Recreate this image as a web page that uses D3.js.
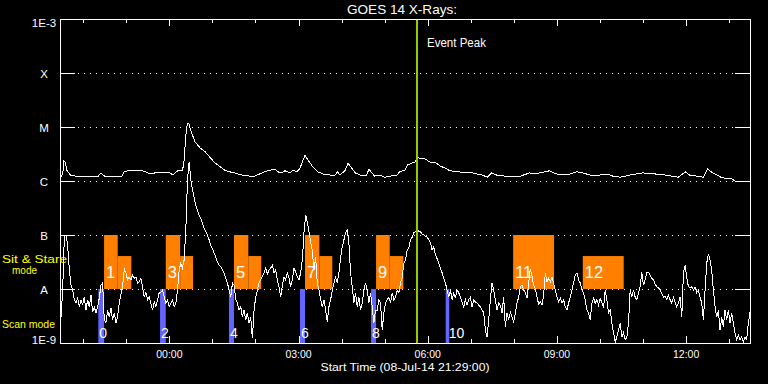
<!DOCTYPE html>
<html>
<head>
<meta charset="utf-8">
<script src="https://cdn.jsdelivr.net/npm/d3@7"></script>
<style>
  body { margin: 0; background: #000; }
  svg { display: block; }
</style>
</head>
<body>
<div id="chart"></div>
<script>
// --- DATA ---
const startTime = new Date(2014, 6, 8, 21, 29, 0);
const endTime = new Date(2014, 6, 9, 13, 29, 0);
const eventPeakMin = 496;   // minutes after start

// long channel: [minutes after start, log10 flux]
const longChannel = [
  [0,-5.93],[1,-5.91],[3,-5.80],[4,-5.63],[6,-5.65],[8,-5.80],[13,-5.89],[20,-5.91],[26,-5.91],[40,-5.91],
  [52,-5.91],[54,-5.87],[56,-5.85],[59,-5.89],[61,-5.91],[75,-5.91],[85,-5.91],[88,-5.83],[93,-5.81],[100,-5.81],
  [107,-5.80],[114,-5.81],[124,-5.87],[131,-5.85],[138,-5.85],[145,-5.85],[152,-5.85],[156,-5.89],[159,-5.85],[164,-5.80],
  [169,-5.80],[171,-5.70],[174,-5.15],[176,-4.93],[178,-4.93],[180,-5.04],[187,-5.28],[194,-5.39],[201,-5.46],[208,-5.57],
  [215,-5.67],[222,-5.74],[228,-5.80],[235,-5.83],[242,-5.85],[252,-5.89],[263,-5.91],[270,-5.91],[280,-5.85],[288,-5.81],
  [298,-5.78],[302,-5.83],[308,-5.85],[312,-5.81],[319,-5.85],[323,-5.80],[329,-5.83],[333,-5.76],[340,-5.52],[344,-5.61],
  [351,-5.74],[358,-5.83],[365,-5.87],[375,-5.89],[382,-5.89],[385,-5.83],[389,-5.89],[396,-5.80],[400,-5.67],[405,-5.76],
  [410,-5.85],[417,-5.89],[426,-5.89],[429,-5.78],[433,-5.85],[437,-5.91],[444,-5.89],[451,-5.93],[458,-5.91],[468,-5.89],
  [472,-5.83],[479,-5.80],[483,-5.70],[489,-5.67],[493,-5.65],[497,-5.57],[507,-5.59],[514,-5.65],[521,-5.65],[528,-5.72],
  [535,-5.76],[542,-5.81],[553,-5.83],[573,-5.85],[587,-5.89],[594,-5.93],[600,-5.85],[607,-5.89],[619,-5.91],[640,-5.91],
  [653,-5.85],[660,-5.87],[674,-5.83],[681,-5.81],[686,-5.85],[695,-5.89],[709,-5.87],[719,-5.83],[727,-5.85],[737,-5.89],
  [751,-5.89],[761,-5.87],[769,-5.91],[779,-5.93],[793,-5.89],[810,-5.85],[828,-5.87],[842,-5.89],[860,-5.93],[870,-5.83],
  [876,-5.89],[895,-5.93],[901,-5.78],[908,-5.85],[921,-5.94],[935,-5.96],[939,-6.00],[960,-6.00]
];

// short channel: evenly sampled, log10 flux
const shortStepMin = 960 / 414;
const shortChannel = [
  -8.52,-8.02,-7.04,-7.00,-7.19,-7.65,-7.93,-8.02,-8.20,-8.26,-8.17,-8.33,-8.20,-8.30,-8.15,
  -8.39,-8.20,-8.33,-8.11,-8.43,-8.33,-8.44,-8.33,-8.17,-7.93,-7.89,-8.57,-8.63,-8.39,-8.52,
  -8.35,-8.57,-8.44,-8.63,-8.52,-8.26,-8.11,-7.96,-7.63,-7.70,-7.83,-7.78,-7.83,-7.74,-7.80,
  -7.78,-7.89,-7.87,-7.80,-7.96,-8.15,-8.06,-8.20,-8.15,-8.26,-8.39,-8.24,-8.33,-8.20,-8.07,
  -8.06,-8.02,-8.15,-8.26,-8.20,-8.33,-8.26,-8.20,-8.33,-8.26,-8.02,-7.65,-7.52,-7.61,-7.46,
  -6.91,-5.98,-5.65,-5.98,-6.17,-6.30,-6.46,-6.54,-6.63,-6.69,-6.78,-6.87,-6.94,-7.00,-7.09,
  -7.19,-7.26,-7.33,-7.41,-7.50,-7.56,-7.59,-7.65,-7.70,-7.80,-7.89,-8.02,-8.15,-7.89,-7.93,
  -8.20,-8.26,-8.39,-8.33,-8.52,-8.39,-8.57,-8.44,-8.63,-8.52,-8.91,-8.39,-8.15,-8.02,-7.89,
  -7.83,-7.76,-7.70,-7.61,-7.72,-7.65,-7.61,-7.56,-7.70,-7.65,-7.83,-7.96,-8.15,-7.93,-7.78,
  -7.83,-7.70,-7.80,-7.96,-7.83,-7.61,-7.69,-7.78,-7.83,-7.70,-7.46,-6.96,-6.63,-6.76,-6.94,
  -7.13,-7.28,-7.65,-7.41,-7.89,-8.02,-8.20,-8.33,-8.20,-8.39,-8.61,-8.33,-8.20,-8.02,-7.89,
  -7.78,-7.89,-7.70,-7.41,-7.22,-7.09,-6.96,-6.91,-7.15,-7.70,-7.96,-8.26,-8.07,-8.33,-8.15,
  -8.39,-8.26,-8.02,-7.89,-8.02,-8.26,-8.07,-8.33,-8.63,-8.39,-8.39,-8.20,-8.26,-8.76,-8.44,
  -8.26,-8.20,-8.15,-8.26,-8.07,-8.20,-8.15,-8.02,-8.07,-7.89,-7.78,-7.52,-7.46,-7.28,-7.24,
  -7.09,-7.04,-6.96,-6.94,-6.91,-6.93,-6.94,-6.98,-7.00,-7.02,-7.04,-7.09,-7.15,-7.28,-7.22,
  -7.37,-7.44,-7.52,-7.61,-7.70,-7.80,-7.89,-8.02,-8.15,-8.02,-8.20,-8.07,-8.17,-8.02,-8.07,
  -8.15,-8.24,-8.33,-8.20,-8.30,-8.20,-8.15,-8.33,-8.20,-8.24,-8.26,-8.30,-8.33,-8.39,-8.44,
  -8.76,-8.89,-8.57,-8.20,-7.89,-8.02,-8.20,-8.39,-8.26,-8.30,-8.44,-8.15,-8.70,-8.44,-8.57,
  -8.43,-8.52,-8.61,-8.44,-8.26,-8.15,-7.96,-7.93,-8.02,-8.07,-8.17,-7.89,-7.63,-7.76,-7.93,
  -8.00,-8.15,-8.28,-8.24,-8.30,-8.11,-7.70,-7.87,-7.80,-7.87,-7.78,-7.89,-8.02,-8.15,-8.24,
  -8.17,-8.26,-8.20,-8.33,-8.39,-8.26,-8.15,-8.02,-7.89,-7.74,-7.70,-7.83,-7.89,-8.02,-8.07,
  -8.20,-8.39,-8.44,-8.57,-8.26,-8.17,-8.26,-8.20,-8.30,-8.17,-8.26,-8.35,-8.02,-8.20,-8.44,
  -8.39,-8.63,-8.81,-8.98,-8.89,-8.76,-8.63,-8.89,-8.81,-8.94,-8.89,-8.63,-8.02,-8.15,-8.02,
  -8.15,-8.20,-8.07,-7.96,-7.69,-7.93,-7.83,-7.70,-7.69,-7.74,-7.80,-7.83,-7.91,-7.96,-7.98,
  -8.02,-8.09,-8.15,-8.13,-8.20,-8.11,-8.20,-8.26,-8.15,-8.24,-8.33,-8.26,-8.15,-8.52,-7.70,
  -7.56,-7.78,-7.96,-7.98,-7.96,-8.02,-7.96,-8.07,-8.02,-8.15,-8.26,-8.57,-8.02,-7.52,-7.35,
  -7.46,-7.65,-8.02,-8.33,-8.52,-8.39,-8.76,-8.52,-8.70,-8.39,-8.57,-8.39,-8.63,-8.44,-8.63,
  -8.81,-8.94,-8.85,-8.94,-8.89,-8.98,-8.89,-8.94,-8.63,-8.43
];

// y axis levels (log10 flux) and labels
const levelExp = [-3, -4, -5, -6, -7, -8, -9];
const levelLabels = ["1E-3", "X", "M", "C", "B", "A", "1E-9"];

// sit & stare blocks (minutes after start)
const stareLabels = ["1", "3", "5", "7", "9", "11", "12"];
const stareStart = [60, 146, 241, 340, 439, 630, 727];
const stareSplit = [79, 166, 261, 360, 458, 687, 727];
const stareEnd   = [98, 184, 279, 378, 477, 687, 784];
const stareHigh = -7;      // tall part top
const stareLow = -7.39;    // short part top
const stareBase = -8;

// scan mode bars (minutes after start)
const scanLabels = ["0", "2", "4", "6", "8", "10"];
const scanStart = [52, 138, 234, 333, 432, 536];
const scanEnd   = [60, 146, 241, 340, 439, 541];

// --- SCALES ---
const W = 768, H = 384;
const plot = { left: 60, right: 750, top: 19, bottom: 343 };
const atMin = m => new Date(startTime.getTime() + m * 60000);
const x = d3.scaleTime().domain([startTime, endTime]).range([61, 750]);
const y = d3.scaleLog().domain([1e-9, 1e-3]).range([plot.bottom, plot.top]).clamp(true);
const yE = e => y(Math.pow(10, e));

const font = "'Liberation Sans', Arial, sans-serif";
const svg = d3.select("#chart").append("svg")
  .attr("width", W).attr("height", H)
  .style("background", "#000");

// --- GRID (dotted) + side ticks ---
const inner = levelExp.slice(1, -1);
svg.selectAll("line.grid").data(inner).enter().append("line")
  .attr("class", "grid")
  .attr("x1", plot.left + 18).attr("x2", plot.right - 15)
  .attr("y1", d => yE(d) + 0.5).attr("y2", d => yE(d) + 0.5)
  .attr("stroke", "#fff").attr("stroke-width", 1)
  .attr("stroke-dasharray", "1,5");
svg.selectAll("line.tl").data(inner).enter().append("line")
  .attr("x1", plot.left).attr("x2", plot.left + 15)
  .attr("y1", d => yE(d) + 0.5).attr("y2", d => yE(d) + 0.5)
  .attr("stroke", "#fff");
svg.selectAll("line.tr").data(inner).enter().append("line")
  .attr("x1", plot.right - 15).attr("x2", plot.right)
  .attr("y1", d => yE(d) + 0.5).attr("y2", d => yE(d) + 0.5)
  .attr("stroke", "#fff");

// --- SIT & STARE blocks ---
const orange = "#ff8000";
stareLabels.forEach((lab, i) => {
  if (stareSplit[i] > stareStart[i]) {
    svg.append("rect")
      .attr("x", x(atMin(stareStart[i])))
      .attr("width", x(atMin(stareSplit[i])) - x(atMin(stareStart[i])))
      .attr("y", yE(stareHigh))
      .attr("height", yE(stareBase) - yE(stareHigh))
      .attr("fill", orange);
  }
  if (stareEnd[i] > stareSplit[i]) {
    svg.append("rect")
      .attr("x", x(atMin(stareSplit[i])))
      .attr("width", x(atMin(stareEnd[i])) - x(atMin(stareSplit[i])))
      .attr("y", yE(stareLow))
      .attr("height", yE(stareBase) - yE(stareLow))
      .attr("fill", orange);
  }
});

// --- SCAN bars ---
svg.selectAll("rect.scan").data(scanLabels).enter().append("rect")
  .attr("x", (d, i) => x(atMin(scanStart[i])))
  .attr("width", (d, i) => x(atMin(scanEnd[i])) - x(atMin(scanStart[i])))
  .attr("y", yE(stareBase))
  .attr("height", yE(-9) - yE(stareBase))
  .attr("fill", "#6464ff");

// block numbers
svg.selectAll("text.stare").data(stareLabels).enter().append("text")
  .attr("x", (d, i) => x(atMin(stareStart[i])) + 2)
  .attr("y", yE(stareBase) - 11)
  .attr("fill", "#fff").style("font-family", font).style("font-size", "16.5px")
  .text(d => d);
svg.selectAll("text.scan").data(scanLabels).enter().append("text")
  .attr("x", (d, i) => x(atMin(scanStart[i])) + (d === "10" ? 3 : 1))
  .attr("y", yE(-9) - 5)
  .attr("fill", "#fff").style("font-family", font).style("font-size", "14px")
  .text(d => d);

// --- CURVES ---
const line = d3.line().x(d => x(d[0])).y(d => yE(d[1]));
svg.append("path")
  .datum(longChannel.map(d => [atMin(d[0]), d[1]]))
  .attr("fill", "none").attr("stroke", "#fff").attr("stroke-width", 1)
  .attr("shape-rendering", "crispEdges")
  .attr("d", line);
svg.append("path")
  .datum(shortChannel.map((v, i) => [atMin(i * shortStepMin), v]))
  .attr("fill", "none").attr("stroke", "#fff").attr("stroke-width", 1)
  .attr("shape-rendering", "crispEdges")
  .attr("d", line);

// --- EVENT PEAK ---
const xp = x(atMin(eventPeakMin));
svg.append("line")
  .attr("x1", xp).attr("x2", xp)
  .attr("y1", plot.top).attr("y2", plot.bottom)
  .attr("stroke", "#99cc00").attr("stroke-width", 2);
svg.append("text")
  .attr("x", xp + 10).attr("y", 47)
  .attr("fill", "#fff").style("font-family", font).style("font-size", "12.5px")
  .attr("textLength", 59).attr("lengthAdjust", "spacingAndGlyphs")
  .text("Event Peak");

// --- FRAME + time ticks ---
svg.append("rect")
  .attr("x", plot.left + 0.5).attr("y", plot.top + 0.5)
  .attr("width", plot.right - plot.left).attr("height", plot.bottom - plot.top)
  .attr("fill", "none").attr("stroke", "#fff").attr("stroke-width", 1);

const hours = x.ticks(d3.timeHour.every(1));
const isMajor = d => d.getHours() % 3 === 0;
svg.selectAll("line.tt").data(hours).enter().append("line")
  .attr("x1", d => Math.round(x(d)) + 0.5).attr("x2", d => Math.round(x(d)) + 0.5)
  .attr("y1", plot.top).attr("y2", d => plot.top + (isMajor(d) ? 7 : 4))
  .attr("stroke", "#fff");
svg.selectAll("line.tb").data(hours).enter().append("line")
  .attr("x1", d => Math.round(x(d)) + 0.5).attr("x2", d => Math.round(x(d)) + 0.5)
  .attr("y1", plot.bottom).attr("y2", d => plot.bottom - (isMajor(d) ? 7 : 4))
  .attr("stroke", "#fff");
svg.selectAll("text.xt").data(hours.filter(isMajor)).enter().append("text")
  .attr("x", d => x(d)).attr("y", 358)
  .attr("text-anchor", "middle")
  .attr("fill", "#fff").style("font-family", font).style("font-size", "10.5px")
  .text(d3.timeFormat("%H:%M"));

// y labels
svg.selectAll("text.yl").data(levelExp).enter().append("text")
  .attr("x", 44)
  .attr("y", (d, i) => yE(d) + (i === 0 ? 8 : i === levelExp.length - 1 ? 0.5 : 4.5))
  .attr("text-anchor", "middle")
  .attr("fill", "#fff").style("font-family", font).style("font-size", "11.5px")
  .text((d, i) => levelLabels[i]);

// --- TITLES ---
svg.append("text")
  .attr("x", 402).attr("y", 14).attr("text-anchor", "middle")
  .attr("fill", "#fff").style("font-family", font).style("font-size", "13px")
  .attr("textLength", 110).attr("lengthAdjust", "spacingAndGlyphs")
  .text("GOES 14 X-Rays:");
svg.append("text")
  .attr("x", 405).attr("y", 371).attr("text-anchor", "middle")
  .attr("fill", "#fff").style("font-family", font).style("font-size", "10px")
  .attr("textLength", 169).attr("lengthAdjust", "spacingAndGlyphs")
  .text("Start Time (08-Jul-14 21:29:00)");

// mode labels
svg.append("text").attr("x", 2).attr("y", 263)
  .attr("fill", "#ffff00").style("font-family", font).style("font-size", "11.5px")
  .attr("textLength", 65).attr("lengthAdjust", "spacingAndGlyphs")
  .text("Sit & Stare");
svg.append("text").attr("x", 12).attr("y", 274)
  .attr("fill", "#ffff00").style("font-family", font).style("font-size", "11.5px")
  .attr("textLength", 25).attr("lengthAdjust", "spacingAndGlyphs")
  .text("mode");
svg.append("text").attr("x", 2).attr("y", 328)
  .attr("fill", "#ffff00").style("font-family", font).style("font-size", "11.5px")
  .attr("textLength", 53).attr("lengthAdjust", "spacingAndGlyphs")
  .text("Scan mode");
</script>
</body>
</html>
